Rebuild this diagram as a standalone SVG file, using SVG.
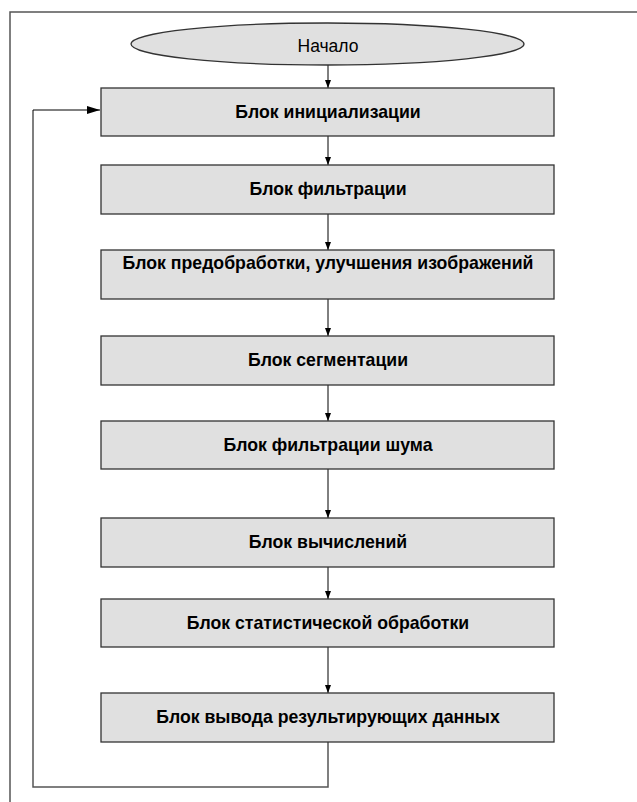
<svg xmlns="http://www.w3.org/2000/svg" width="637" height="802" viewBox="0 0 637 802">
<defs>
<style>
.frame{fill:none;stroke:#555;stroke-width:1.5}
.box{fill:#e0e0e0;stroke:#333;stroke-width:1.3}
.lbl{font-family:"Liberation Sans",Arial,sans-serif;font-size:17.7px;font-weight:bold;fill:#000;text-anchor:middle}
.lblr{font-family:"Liberation Sans",Arial,sans-serif;font-size:17.5px;fill:#000;text-anchor:middle}
.conn{fill:none;stroke:#000;stroke-width:1}
.loop{fill:none;stroke:#555;stroke-width:1.5}
</style>
<marker id="ah" viewBox="0 0 8 6" refX="8" refY="3" markerWidth="8" markerHeight="6" markerUnits="userSpaceOnUse" orient="auto">
<path d="M0,0 L8,3 L0,6 Z" fill="#000"/>
</marker>
<marker id="ahl" viewBox="0 0 13 8" refX="13" refY="4" markerWidth="13" markerHeight="8" markerUnits="userSpaceOnUse" orient="auto">
<path d="M0,0 L13,4 L0,8 Z" fill="#000"/>
</marker>
</defs>
<rect width="637" height="802" fill="#fff"/>
<path class="frame" d="M10,802 V12 H637"/>
<g id="connectors">
<path class="conn" d="M328,65 V88" marker-end="url(#ah)"/>
<path class="conn" d="M328,136 V165" marker-end="url(#ah)"/>
<path class="conn" d="M328,214 V250" marker-end="url(#ah)"/>
<path class="conn" d="M328,299 V336" marker-end="url(#ah)"/>
<path class="conn" d="M328,385 V421" marker-end="url(#ah)"/>
<path class="conn" d="M328,469 V518" marker-end="url(#ah)"/>
<path class="conn" d="M328,567 V599" marker-end="url(#ah)"/>
<path class="conn" d="M328,647 V693" marker-end="url(#ah)"/>
<path class="loop" d="M328,742 V787 H33 V110"/>
<path class="conn" d="M33,110 H100" marker-end="url(#ahl)"/>
</g>
<g id="start">
<ellipse cx="327.5" cy="44" rx="196.5" ry="21" fill="#e0e0e0" stroke="#333" stroke-width="1.3"/>
<text class="lblr" x="328" y="52">Начало</text>
</g>
<g id="n1"><rect class="box" x="101" y="88" width="453" height="48"/><text class="lbl" x="328" y="118">Блок инициализации</text></g>
<g id="n2"><rect class="box" x="101" y="165" width="453" height="49"/><text class="lbl" x="328" y="195">Блок фильтрации</text></g>
<g id="n3"><rect class="box" x="101" y="250" width="453" height="49"/><text class="lbl" x="328" y="269">Блок предобработки, улучшения изображений</text></g>
<g id="n4"><rect class="box" x="101" y="336" width="453" height="49"/><text class="lbl" x="328" y="366">Блок сегментации</text></g>
<g id="n5"><rect class="box" x="101" y="421" width="453" height="48"/><text class="lbl" x="328" y="451">Блок фильтрации шума</text></g>
<g id="n6"><rect class="box" x="101" y="518" width="453" height="49"/><text class="lbl" x="328" y="548">Блок вычислений</text></g>
<g id="n7"><rect class="box" x="101" y="599" width="453" height="48"/><text class="lbl" x="328" y="629">Блок статистической обработки</text></g>
<g id="n8"><rect class="box" x="101" y="693" width="453" height="49"/><text class="lbl" x="328" y="723">Блок вывода результирующих данных</text></g>
</svg>
